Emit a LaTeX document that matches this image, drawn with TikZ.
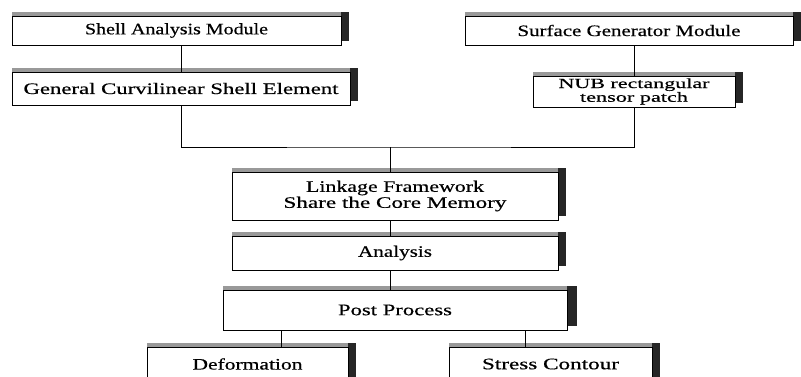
\documentclass[tikz,border=0pt]{standalone}
\usepackage{fontspec}
\setmainfont{Liberation Serif}[FakeBold=0.4]
\usepackage{graphicx}
\usetikzlibrary{shadows,calc}
\newsavebox\fitbox
\newdimen\fitdim
\newcommand\fitx[2]{\sbox\fitbox{#2}\fitdim=\wd\fitbox\pgfmathsetmacro\fitfac{#1/\the\fitdim}\scalebox{\fitfac}[1]{\usebox\fitbox}}
\tikzset{
  boxshadow/.style={
    general shadow={shadow xshift=#1, shadow yshift=4pt, opacity=1, fill=black!85},
    general shadow={shadow xshift=0pt, shadow yshift=4pt, opacity=1, fill=black!40}},
  modbox/.style={draw=black, line width=0.9pt, fill=white, inner sep=0pt, outer sep=0pt,
    align=center, font=\fontsize{16}{16}\selectfont, boxshadow=8pt},
  link/.style={draw=black, line width=0.9pt}
}
\begin{document}
\begin{tikzpicture}[x=1pt,y=-1pt]
\useasboundingbox (0,0) rectangle (801,376);
\fill[white] (0,0) rectangle (801,376);
\begin{scope}
\clip (0,0) rectangle (801,376);
\node[modbox, minimum width=329pt, minimum height=29pt] (A) at (176.5,30.5) {\fitx{183}{Shell Analysis Module}};
\node[modbox, minimum width=338pt, minimum height=33pt] (B) at (181,88.5) {\fitx{315}{General Curvilinear Shell Element}};
\node[modbox, minimum width=328pt, minimum height=29pt] (C) at (629,30.5) {\fitx{223}{Surface Generator Module}};
\node[modbox, minimum width=202pt, minimum height=31pt, font=\fontsize{14}{12.5}\selectfont] (D) at (634,91.5) {\fitx{151}{NUB rectangular}\\\fitx{108}{tensor patch}};
\node[modbox, minimum width=326pt, minimum height=48pt] (E) at (395,196) {\fitx{178}{Linkage Framework}\\\fitx{223}{Share the Core Memory}};
\node[modbox, minimum width=326pt, minimum height=34pt] (F) at (395,253) {\fitx{74}{Analysis}};
\node[modbox, minimum width=344pt, minimum height=40pt, boxshadow=10pt] (G) at (395,310) {\fitx{114}{Post Process}};
\node[modbox, minimum width=201pt, minimum height=34pt] (H) at (247.5,364) {\fitx{110}{Deformation}};
\node[modbox, minimum width=203pt, minimum height=34pt] (S) at (550.5,364) {\fitx{137}{Stress Contour}};
\coordinate (bus) at (390,147);
\coordinate (gl) at ($(G.south west)!0.17!(G.south east)$);
\coordinate (gr) at ($(G.south west)!0.878!(G.south east)$);
\draw[link] (B.north) -- (B.north |- A.south);
\draw[link] (D.north) -- (D.north |- C.south);
\draw[link] (B.south) |- (bus) -| (D.south);
\draw[link] (bus) -- (bus |- E.north);
\draw[link] (E.south -| bus) -- (F.north -| bus);
\draw[link] (F.south -| bus) -- (G.north -| bus);
\draw[link] (gl) -- (gl |- H.north);
\draw[link] (gr) -- (gr |- S.north);
\end{scope}
\end{tikzpicture}
\end{document}
